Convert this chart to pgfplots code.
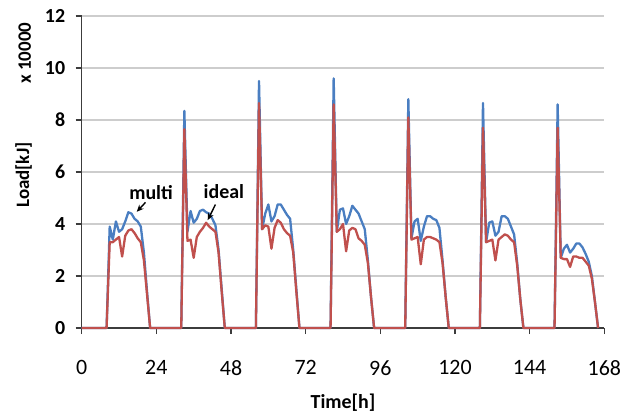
\documentclass[border=0pt]{standalone}
\usepackage{fontspec}
\setmainfont{Carlito}
\usepackage{pgfplots}
\pgfplotsset{compat=1.18}
\usetikzlibrary{arrows.meta}
\definecolor{multiblue}{RGB}{74,126,193}
\definecolor{idealred}{RGB}{192,80,77}
\definecolor{gridgray}{RGB}{205,205,205}
\definecolor{axisgray}{RGB}{60,60,60}

% hour, multi, ideal  (load in units of 10000 kJ)
\pgfplotstableread{
h    multi ideal
0    0     0
8    0     0
9    3.9   3.3
10   3.4   3.3
11   4.1   3.4
12   3.7   3.5
13   3.8   2.75
14   4.1   3.55
15   4.45  3.75
16   4.4   3.8
17   4.2   3.65
18   4.1   3.45
19   3.9   3.3
20   2.9   2.6
21   1.4   1.3
22   0     0
32   0     0
33   8.35  7.65
34   3.7   3.35
35   4.5   3.4
36   4.05  2.7
37   4.2   3.5
38   4.5   3.7
39   4.55  3.85
40   4.45  4.05
41   4.4   3.9
42   4.2   3.8
43   3.95  3.7
44   3.0   2.9
45   1.5   1.4
46   0     0
56   0     0
57   9.5   8.65
58   3.8   3.8
59   4.4   3.95
60   4.75  3.9
61   4.1   3.05
62   4.3   3.85
63   4.75  4.15
64   4.75  4.05
65   4.55  3.8
66   4.35  3.65
67   4.2   3.55
68   3.0   2.9
69   1.5   1.4
70   0     0
80   0     0
81   9.6   8.6
82   3.7   3.7
83   4.55  3.8
84   4.6   4.0
85   4.0   2.95
86   4.3   3.75
87   4.7   3.85
88   4.55  3.8
89   4.4   3.45
90   4.1   3.35
91   3.8   3.2
92   2.6   2.5
93   1.2   1.2
94   0     0
104  0     0
105  8.8   8.1
106  3.45  3.4
107  4.1   3.45
108  4.2   3.5
109  3.35  2.45
110  3.9   3.4
111  4.3   3.5
112  4.3   3.5
113  4.2   3.45
114  4.15  3.4
115  3.85  3.3
116  2.6   2.5
117  1.2   1.2
118  0     0
128  0     0
129  8.65  7.7
130  3.3   3.3
131  4.05  3.35
132  4.1   3.4
133  3.55  2.6
134  3.7   3.4
135  4.3   3.5
136  4.3   3.6
137  4.2   3.55
138  3.9   3.4
139  3.6   3.3
140  2.5   2.4
141  1.1   1.1
142  0     0
152  0     0
153  8.6   7.7
154  2.7   2.7
155  3.05  2.65
156  3.2   2.65
157  2.9   2.35
158  3.05  2.75
159  3.25  2.75
160  3.25  2.7
161  3.1   2.7
162  2.85  2.55
163  2.55  2.4
164  2.0   1.9
165  1.0   1.0
166  0     0
}\loadtable

\begin{document}
\begin{tikzpicture}
\path[use as bounding box] (-81.7bp,-86bp) rectangle (553.3bp,328bp);
\begin{axis}[
    scale only axis,
    width=522.6bp, height=312bp,
    xmin=0, xmax=168, ymin=0, ymax=12,
    xtick={0,24,...,168}, ytick={0,2,...,12},
    axis lines=left,
    axis line style={-, axisgray, line width=1.3bp},
    tick align=outside,
    major tick length=6bp,
    tick style={axisgray, line width=1.3bp},
    ymajorgrids,
    grid style={gridgray, line width=1.4bp},
    /pgf/number format/assume math mode=true,
    yticklabel style={font=\fontsize{20}{22}\selectfont\bfseries, xshift=-7bp},
    xticklabel style={font=\fontsize{22}{24}\selectfont, yshift=-23bp},
    xlabel={Time[h]},
    ylabel={Load[kJ]},
    xlabel style={font=\fontsize{20}{22}\selectfont\bfseries, at={(axis description cs:0.5,-0.24)}, anchor=center},
    ylabel style={font=\fontsize{19}{21}\selectfont\bfseries, at={(axis description cs:-0.111,0.49)}, anchor=center},
    clip=false,
]
\addplot[multiblue, line width=2.3bp, line join=round] table[x=h, y=multi] {\loadtable};
\addplot[idealred, line width=2.3bp, line join=round] table[x=h, y=ideal] {\loadtable};
\node[rotate=90, font=\fontsize{19}{21}\selectfont\bfseries] at (rel axis cs:-0.109,0.881) {x 10000};
\node[font=\fontsize{20}{22}\selectfont\bfseries] at (axis cs:22.3,5.19) {multi};
\draw[-{Stealth[length=7bp,width=6bp]}, line width=1.4bp] (axis cs:20.5,4.83) -- (axis cs:17.7,4.47);
\node[font=\fontsize{20}{22}\selectfont\bfseries] at (axis cs:45.7,5.23) {ideal};
\draw[-{Stealth[length=7bp,width=6bp]}, line width=1.4bp] (axis cs:43.0,4.75) -- (axis cs:40.5,4.15);
\end{axis}
\end{tikzpicture}
\end{document}
